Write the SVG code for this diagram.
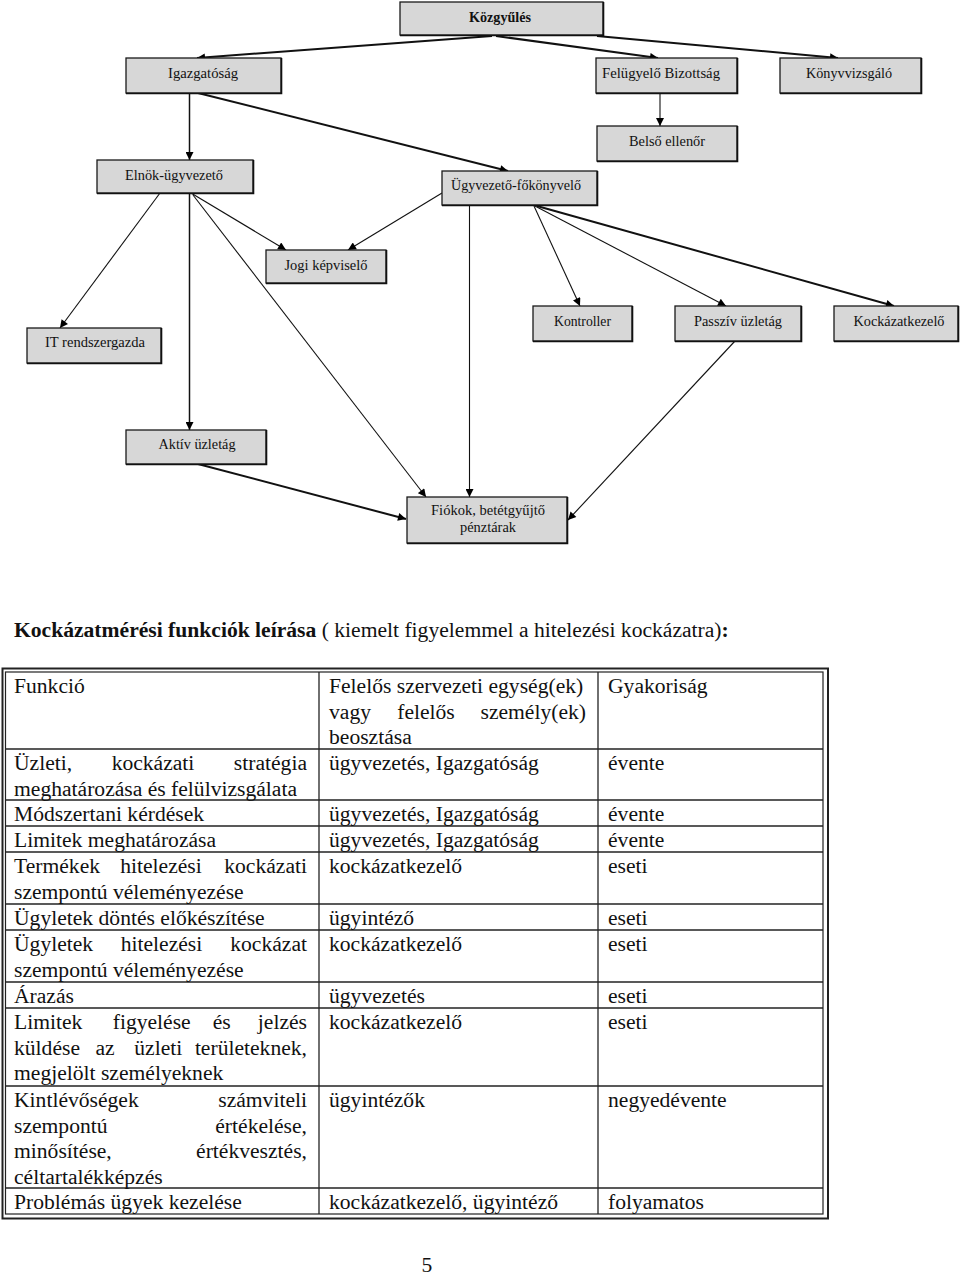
<svg xmlns="http://www.w3.org/2000/svg" width="960" height="1279" viewBox="0 0 960 1279">
<style>
.bg{fill:#ffffff}
.box rect{fill:#d7d7d7;stroke:#1a1a1a;stroke-width:1.3}
.box polyline{fill:none;stroke:#111;stroke-width:1.6}
.bt{font-family:"Liberation Serif","Times New Roman",serif;font-size:14px;fill:#111;text-anchor:middle}
.bb{font-weight:bold}
.c{fill:none;stroke:#111;stroke-width:1.1;marker-end:url(#ah)}
.k{stroke-width:2}
.m{stroke-width:1.5}
.t{font-family:"Liberation Serif","Times New Roman",serif;font-size:21.6px;fill:#111}
.r{text-anchor:end}
.mid{text-anchor:middle}
.tl{stroke:#222;stroke-width:1.3;fill:none}
</style>
<defs>
<marker id="ah" viewBox="0 0 10 10" refX="10" refY="5" markerWidth="9" markerHeight="8" markerUnits="userSpaceOnUse" orient="auto">
<path d="M0,0 L10,5 L0,10 z" fill="#000"/>
</marker>
</defs>
<rect class="bg" x="0" y="0" width="960" height="1279"/>

<g id="connectors">
<line class="c k" x1="492" y1="36" x2="197" y2="58"/>
<line class="c k" x1="496" y1="36" x2="658" y2="58"/>
<line class="c k" x1="597" y1="36" x2="838" y2="58"/>
<line class="c m" x1="189.5" y1="93" x2="189.5" y2="160"/>
<line class="c k" x1="198" y1="93" x2="508" y2="171"/>
<line class="c" x1="660" y1="93" x2="660" y2="126"/>
<line class="c" x1="160" y1="193" x2="60" y2="328"/>
<line class="c m" x1="189.5" y1="193" x2="189.5" y2="430"/>
<line class="c" x1="191" y1="193" x2="286" y2="250"/>
<line class="c" x1="193" y1="195" x2="426" y2="497"/>
<line class="c" x1="442" y1="193" x2="348" y2="250"/>
<line class="c" x1="469.5" y1="205" x2="469.5" y2="497"/>
<line class="c" x1="534" y1="206" x2="580" y2="306"/>
<line class="c" x1="535" y1="206" x2="726" y2="306"/>
<line class="c k" x1="537" y1="206" x2="894" y2="306"/>
<line class="c" x1="735" y1="341" x2="568" y2="520"/>
<line class="c k" x1="198" y1="464" x2="406" y2="519"/>
</g>

<g id="kozgyules" class="box"><rect x="400" y="2" width="203" height="33"/><polyline points="400,35.5 603.5,35.5 603.5,2"/><text class="bt bb" x="500" y="22" textLength="62" lengthAdjust="spacingAndGlyphs">Közgyűlés</text></g>
<g id="igazgatosag" class="box"><rect x="126" y="58" width="155" height="35"/><polyline points="126,93.5 281.5,93.5 281.5,58"/><text class="bt" x="203" y="78" textLength="70" lengthAdjust="spacingAndGlyphs">Igazgatóság</text></g>
<g id="felugyelo" class="box"><rect x="596" y="58" width="141" height="35"/><polyline points="596,93.5 737.5,93.5 737.5,58"/><text class="bt" x="661" y="78" textLength="118" lengthAdjust="spacingAndGlyphs">Felügyelő Bizottság</text></g>
<g id="konyvvizsgalo" class="box"><rect x="780" y="58" width="141" height="35"/><polyline points="780,93.5 921.5,93.5 921.5,58"/><text class="bt" x="849" y="78" textLength="86" lengthAdjust="spacingAndGlyphs">Könyvvizsgáló</text></g>
<g id="belso" class="box"><rect x="597" y="126" width="140" height="35"/><polyline points="597,161.5 737.5,161.5 737.5,126"/><text class="bt" x="667" y="146" textLength="76" lengthAdjust="spacingAndGlyphs">Belső ellenőr</text></g>
<g id="elnok" class="box"><rect x="97" y="160" width="156" height="33"/><polyline points="97,193.5 253.5,193.5 253.5,160"/><text class="bt" x="174" y="180" textLength="98" lengthAdjust="spacingAndGlyphs">Elnök-ügyvezető</text></g>
<g id="ugyvezeto" class="box"><rect x="442" y="171" width="155" height="34"/><polyline points="442,205.5 597.5,205.5 597.5,171"/><text class="bt" x="516" y="190" textLength="130" lengthAdjust="spacingAndGlyphs">Ügyvezető-főkönyvelő</text></g>
<g id="jogi" class="box"><rect x="266" y="250" width="120" height="33"/><polyline points="266,283.5 386.5,283.5 386.5,250"/><text class="bt" x="326" y="270" textLength="83" lengthAdjust="spacingAndGlyphs">Jogi képviselő</text></g>
<g id="kontroller" class="box"><rect x="533" y="306" width="99" height="35"/><polyline points="533,341.5 632.5,341.5 632.5,306"/><text class="bt" x="582.5" y="326" textLength="57" lengthAdjust="spacingAndGlyphs">Kontroller</text></g>
<g id="passziv" class="box"><rect x="675" y="306" width="126" height="35"/><polyline points="675,341.5 801.5,341.5 801.5,306"/><text class="bt" x="738" y="326" textLength="88" lengthAdjust="spacingAndGlyphs">Passzív üzletág</text></g>
<g id="kockazatkezelo" class="box"><rect x="834" y="306" width="124" height="35"/><polyline points="834,341.5 958.5,341.5 958.5,306"/><text class="bt" x="899" y="326" textLength="91" lengthAdjust="spacingAndGlyphs">Kockázatkezelő</text></g>
<g id="it" class="box"><rect x="27" y="328" width="134" height="35"/><polyline points="27,363.5 161.5,363.5 161.5,328"/><text class="bt" x="95" y="347" textLength="100" lengthAdjust="spacingAndGlyphs">IT rendszergazda</text></g>
<g id="aktiv" class="box"><rect x="126" y="430" width="140" height="34"/><polyline points="126,464.5 266.5,464.5 266.5,430"/><text class="bt" x="197" y="449" textLength="77" lengthAdjust="spacingAndGlyphs">Aktív üzletág</text></g>
<g id="fiokok" class="box"><rect x="407" y="497" width="160" height="46"/><polyline points="407,543.5 567.5,543.5 567.5,497"/><text class="bt" x="488" y="515" textLength="114" lengthAdjust="spacingAndGlyphs">Fiókok, betétgyűjtő</text><text class="bt" x="488" y="532" textLength="56" lengthAdjust="spacingAndGlyphs">pénztárak</text></g>

<g id="title">
<text class="t" x="14" y="637"><tspan font-weight="bold">Kockázatmérési funkciók leírása</tspan> ( kiemelt figyelemmel a hitelezési kockázatra)<tspan font-weight="bold">:</tspan></text>
</g>

<g id="table">
<rect x="2.5" y="668.5" width="825.5" height="550" fill="none" stroke="#222" stroke-width="2"/>
<rect x="5.5" y="672" width="817.5" height="542" fill="none" stroke="#222" stroke-width="1.2"/>
<line class="tl" x1="319" y1="672" x2="319" y2="1214"/>
<line class="tl" x1="598" y1="672" x2="598" y2="1214"/>
<line class="tl" x1="5.5" y1="749" x2="823" y2="749"/>
<line class="tl" x1="5.5" y1="800" x2="823" y2="800"/>
<line class="tl" x1="5.5" y1="826" x2="823" y2="826"/>
<line class="tl" x1="5.5" y1="852" x2="823" y2="852"/>
<line class="tl" x1="5.5" y1="904" x2="823" y2="904"/>
<line class="tl" x1="5.5" y1="930" x2="823" y2="930"/>
<line class="tl" x1="5.5" y1="982" x2="823" y2="982"/>
<line class="tl" x1="5.5" y1="1008" x2="823" y2="1008"/>
<line class="tl" x1="5.5" y1="1086" x2="823" y2="1086"/>
<line class="tl" x1="5.5" y1="1188" x2="823" y2="1188"/>

<text class="t" x="14" y="693">Funkció</text>
<text class="t" x="329" y="693">Felelős szervezeti egység(ek)</text>
<text class="t" x="329" y="718.6">vagy</text><text class="t mid" x="426" y="718.6">felelős</text><text class="t r" x="586" y="718.6">személy(ek)</text>
<text class="t" x="329" y="744.2">beosztása</text>
<text class="t" x="608" y="693">Gyakoriság</text>

<text class="t" x="14" y="770">Üzleti,</text><text class="t mid" x="153" y="770">kockázati</text><text class="t r" x="307" y="770">stratégia</text>
<text class="t" x="14" y="795.6">meghatározása és  felülvizsgálata</text>
<text class="t" x="329" y="770">ügyvezetés, Igazgatóság</text>
<text class="t" x="608" y="770">évente</text>

<text class="t" x="14" y="821">Módszertani kérdések</text>
<text class="t" x="329" y="821">ügyvezetés, Igazgatóság</text>
<text class="t" x="608" y="821">évente</text>

<text class="t" x="14" y="847">Limitek meghatározása</text>
<text class="t" x="329" y="847">ügyvezetés, Igazgatóság</text>
<text class="t" x="608" y="847">évente</text>

<text class="t" x="14" y="873">Termékek</text><text class="t mid" x="161" y="873">hitelezési</text><text class="t r" x="307" y="873">kockázati</text>
<text class="t" x="14" y="898.6">szempontú véleményezése</text>
<text class="t" x="329" y="873">kockázatkezelő</text>
<text class="t" x="608" y="873">eseti</text>

<text class="t" x="14" y="925">Ügyletek döntés előkészítése</text>
<text class="t" x="329" y="925">ügyintéző</text>
<text class="t" x="608" y="925">eseti</text>

<text class="t" x="14" y="951">Ügyletek</text><text class="t mid" x="161.5" y="951">hitelezési</text><text class="t r" x="307" y="951">kockázat</text>
<text class="t" x="14" y="976.6">szempontú véleményezése</text>
<text class="t" x="329" y="951">kockázatkezelő</text>
<text class="t" x="608" y="951">eseti</text>

<text class="t" x="14" y="1003">Árazás</text>
<text class="t" x="329" y="1003">ügyvezetés</text>
<text class="t" x="608" y="1003">eseti</text>

<text class="t" x="14" y="1029">Limitek</text><text class="t mid" x="151.7" y="1029">figyelése</text><text class="t mid" x="221.7" y="1029">és</text><text class="t r" x="307" y="1029">jelzés</text>
<text class="t" x="14" y="1054.6">küldése</text><text class="t mid" x="105" y="1054.6">az</text><text class="t mid" x="158.3" y="1054.6">üzleti</text><text class="t r" x="307" y="1054.6">területeknek,</text>
<text class="t" x="14" y="1080.2">megjelölt személyeknek</text>
<text class="t" x="329" y="1029">kockázatkezelő</text>
<text class="t" x="608" y="1029">eseti</text>

<text class="t" x="14" y="1107">Kintlévőségek</text><text class="t r" x="307" y="1107">számviteli</text>
<text class="t" x="14" y="1132.6">szempontú</text><text class="t r" x="307" y="1132.6">értékelése,</text>
<text class="t" x="14" y="1158.2">minősítése,</text><text class="t r" x="307" y="1158.2">értékvesztés,</text>
<text class="t" x="14" y="1183.8">céltartalékképzés</text>
<text class="t" x="329" y="1107">ügyintézők</text>
<text class="t" x="608" y="1107">negyedévente</text>

<text class="t" x="14" y="1209">Problémás ügyek kezelése</text>
<text class="t" x="329" y="1209">kockázatkezelő, ügyintéző</text>
<text class="t" x="608" y="1209">folyamatos</text>
</g>

<g id="page"><text class="t mid" x="427" y="1272">5</text></g>
</svg>
